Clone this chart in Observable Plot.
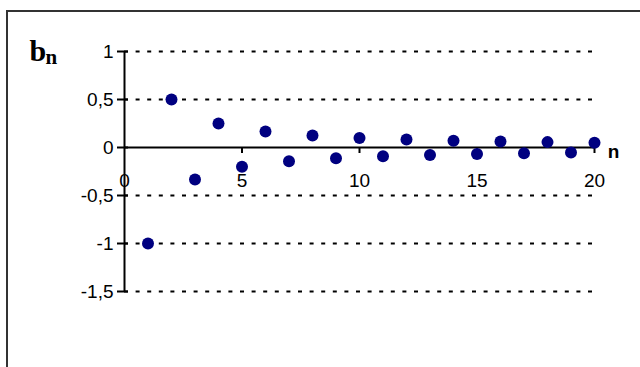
<!DOCTYPE html>
<html>
<head>
<meta charset="utf-8">
<script src="https://cdn.jsdelivr.net/npm/d3@7"></script>
<script src="https://cdn.jsdelivr.net/npm/@observablehq/plot@0.6"></script>
<style>
  html, body { margin: 0; padding: 0; background: #fff; }
  #wrap { position: relative; width: 640px; height: 367px; overflow: hidden; }
  #box { position: absolute; left: 6px; top: 10px; width: 700px; height: 400px;
         border-left: 2px solid #333; border-top: 2px solid #333; box-sizing: border-box; }
  #chart { position: absolute; left: 0; top: 0; }
</style>
</head>
<body>
<div id="wrap"><div id="box"></div><div id="chart"></div></div>
<script>
// Sequence index n and term values b_n
const n = [1, 2, 3, 4, 5, 6, 7, 8, 9, 10, 11, 12, 13, 14, 15, 16, 17, 18, 19, 20];
const b = [-1, 0.5, -0.333, 0.25, -0.2, 0.167, -0.143, 0.125, -0.111, 0.1,
           -0.091, 0.083, -0.077, 0.071, -0.067, 0.063, -0.059, 0.056, -0.053, 0.05];
const xTicks = [0, 5, 10, 15, 20];
const yTicks = [1, 0.5, 0, -0.5, -1, -1.5];
const gridLevels = [1, 0.5, -0.5, -1, -1.5];

const points = n.map((d, i) => ({n: d, b: b[i]}));
const comma = d => String(d).replace(".", ",");

const chart = Plot.plot({
  width: 640,
  height: 367,
  marginLeft: 124,
  marginRight: 46,
  marginTop: 51,
  marginBottom: 76,
  style: {background: "transparent", fontFamily: "Liberation Sans, Arial, sans-serif", fontSize: "19px"},
  x: {type: "linear", domain: [0, 20], axis: null},
  y: {type: "linear", domain: [-1.5, 1], axis: null},
  marks: [
    // dotted horizontal gridlines
    Plot.ruleY(gridLevels, {y: d => d, stroke: "#000", strokeWidth: 2, strokeDasharray: "4,7.6"}),
    // axis lines
    Plot.ruleX([0], {x: d => d, stroke: "#000", strokeWidth: 2}),
    Plot.ruleY([0], {y: d => d, stroke: "#000", strokeWidth: 2}),
    // y ticks crossing the axis line
    Plot.axisY({ticks: yTicks, tickSize: 11, dx: 4, strokeWidth: 2, text: null, label: null}),
    Plot.axisY({ticks: yTicks, tickSize: 0, tickPadding: 11, tickFormat: comma, fontSize: 19, fill: "#000", label: null}),
    // x ticks hanging below the zero line
    Plot.ruleX(xTicks.slice(1), {x: d => d, y1: 0, y2: 0, insetTop: 0, insetBottom: -6, stroke: "#000", strokeWidth: 2}),
    Plot.text(xTicks, {x: d => d, y: 0, text: d => String(d), dy: 33, fontSize: 19, fill: "#000"}),
    // data points
    Plot.dot(points, {x: "n", y: "b", r: 6, fill: "#000080", stroke: "none"}),
    // axis titles
    Plot.text(["n"], {x: 20, y: 0, text: d => d, dx: 19, dy: 4, fontSize: 19, fontWeight: "bold", fill: "#000"}),
    Plot.text(["b"], {frameAnchor: "top-left", text: d => d, dx: -95, dy: -12, fontSize: 30, fontWeight: "bold",
                      fontFamily: "Liberation Serif, Times New Roman, serif", fill: "#000"}),
    Plot.text(["n"], {frameAnchor: "top-left", text: d => d, dx: -79, dy: -2, fontSize: 21, fontWeight: "bold",
                      fontFamily: "Liberation Serif, Times New Roman, serif", fill: "#000"})
  ]
});
document.getElementById("chart").appendChild(chart);
</script>
</body>
</html>
